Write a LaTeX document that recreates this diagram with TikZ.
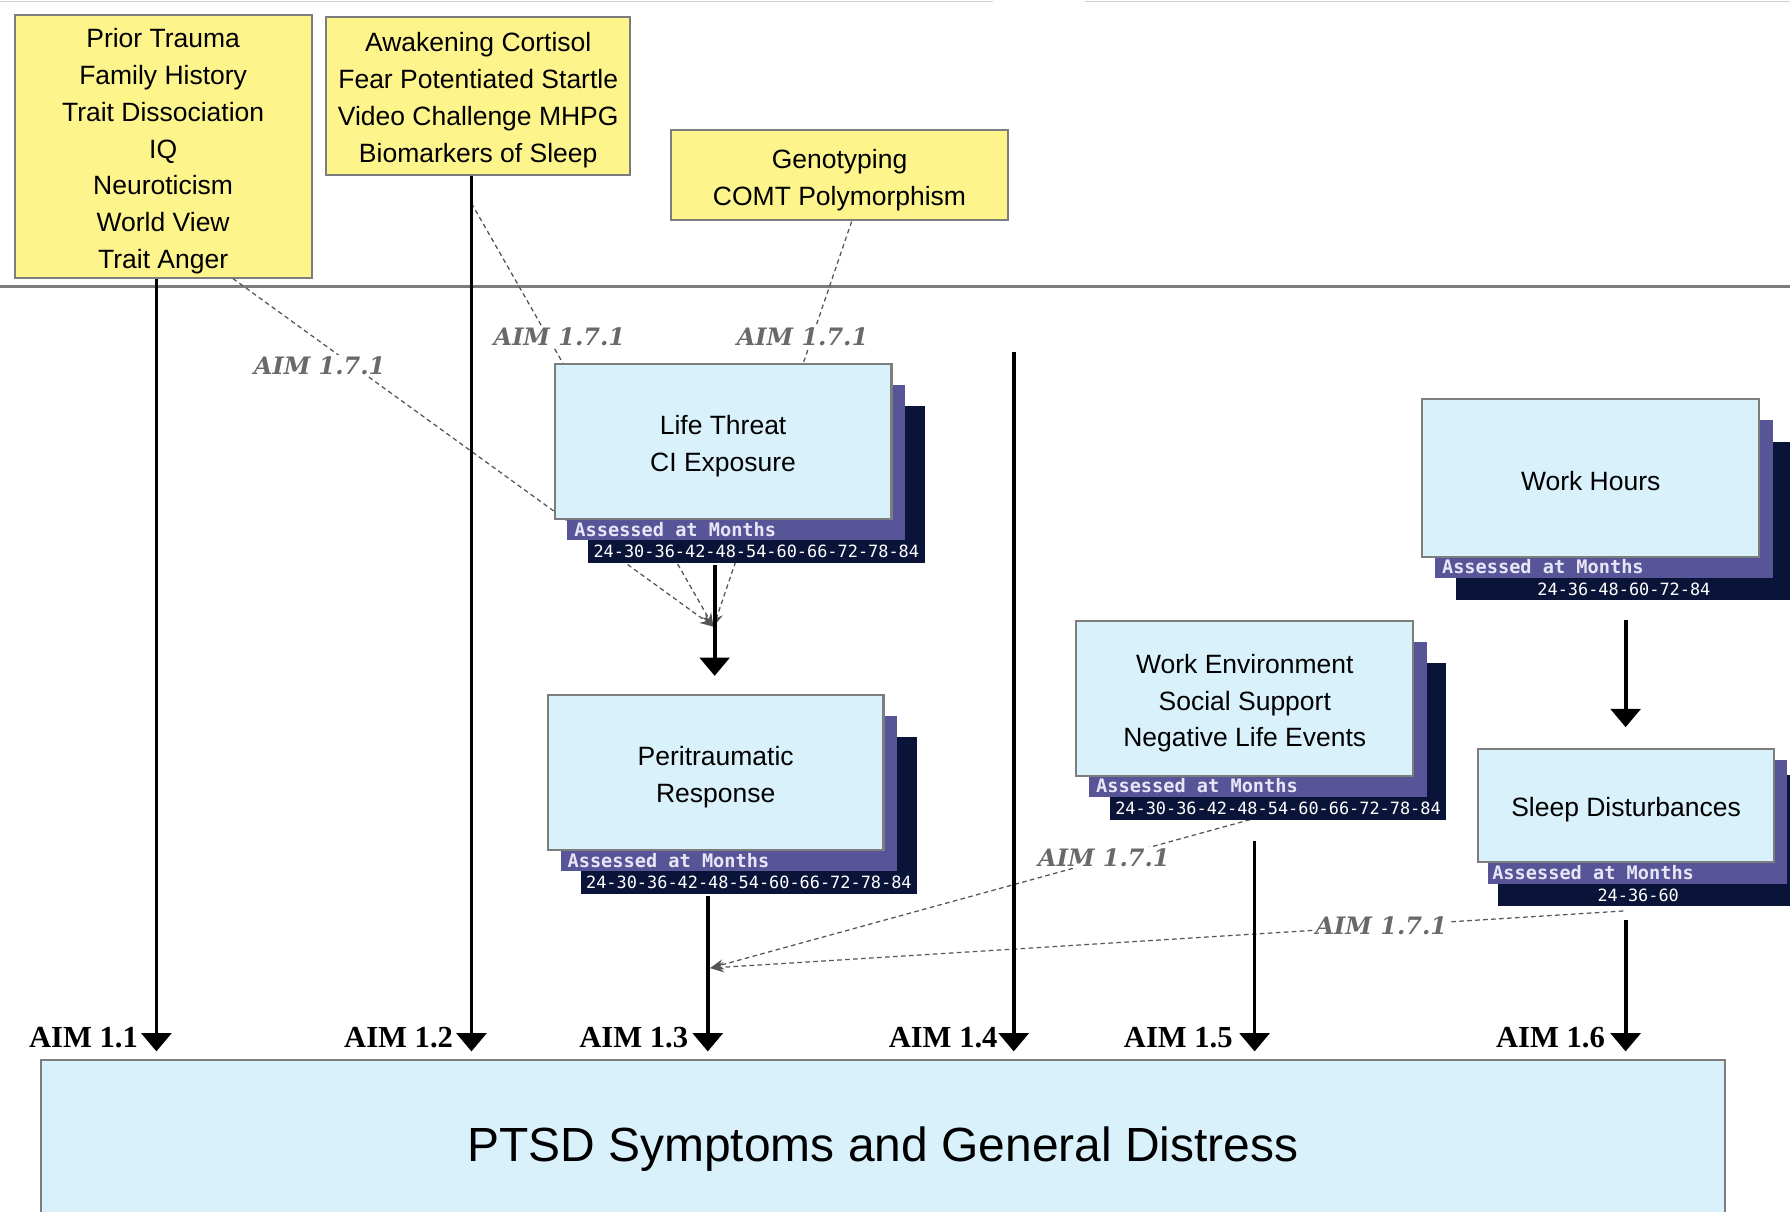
\documentclass[tikz,border=0pt]{standalone}
\usepackage{fontspec}
\setmainfont{Liberation Sans}
\newfontfamily\lserif{Liberation Serif}
\newfontfamily\dvserif{DejaVu Serif}
\newfontfamily\dvmono{DejaVu Sans Mono}
\usetikzlibrary{arrows.meta,calc}
\definecolor{cyel}{RGB}{253,244,140}
\definecolor{cblue}{RGB}{217,241,251}
\definecolor{cpurp}{RGB}{88,84,152}
\definecolor{cnavy}{RGB}{10,20,56}
\definecolor{cedge}{RGB}{125,125,125}
\definecolor{clav}{RGB}{232,230,246}
\definecolor{cdash}{RGB}{85,85,85}
\definecolor{csub}{RGB}{105,105,105}
\newcommand{\tup}{\rule{0pt}{25pt}}
\tikzset{
  yelbox/.style={draw=cedge, line width=1.8, fill=cyel, anchor=north west, inner sep=0, align=center,
    font=\fontsize{23.2}{32.3}\selectfont},
  frontbox/.style={draw=cedge, line width=1.8, fill=cblue, anchor=north west, inner sep=0, align=center,
    font=\fontsize{23.2}{32.3}\selectfont},
  asm/.style={font=\dvmono\bfseries\fontsize{16.3}{16}\selectfont, text=clav, anchor=west, inner sep=0},
  nums/.style={font=\dvmono\fontsize{14.8}{15}\selectfont, text=white, inner sep=0},
  blk/.style={line width=3.3, -{Triangle[width=26pt,length=16pt]}},
  dsh/.style={draw=cdash, line width=1.1, dash pattern=on 4pt off 3pt, -{Stealth[length=12pt,width=9pt]}},
  sublab/.style={font=\dvserif\bfseries\itshape\fontsize{21}{21}\selectfont, text=csub, fill=white, inner sep=1.5},
  aimlab/.style={font=\lserif\bfseries\fontsize{26.8}{27}\selectfont, anchor=base east, inner sep=0},
}
% #1 name, #2 L, #3 T, #4 R, #5 B, #6 text, #7 numbers
\newcommand{\mkstack}[7]{%
  \fill[cnavy] (#2+30,#3+38) rectangle (#4+30,#5+39);
  \fill[cpurp] (#2+12,#3+19) rectangle (#4+13,#5+19);
  \node[frontbox, minimum width={(#4-#2)*1pt}, minimum height={(#5-#3)*1pt}] (#1) at (#2,#3) {#6};
  \node[asm] (#1-a) at (#2+18,#5+9.5) {Assessed at Months};
  \node[nums] (#1-n) at ({(#2+#4)/2+30},#5+29) {#7};
}
\begin{document}
\begin{tikzpicture}[x=1pt,y=-1pt]
\useasboundingbox (0,0) rectangle (1568,1061);
\clip (0,0) rectangle (1568,1061);
\fill[white] (0,0) rectangle (1568,1061);

% faint top line and separator
\draw[gray!35, line width=1] (0,1) -- (870,1);
\draw[gray!35, line width=1] (950,1) -- (1568,1);
\draw[cedge, line width=2.2] (0,251) -- (1568,251);

% top yellow boxes
\node[yelbox, minimum width=260pt, minimum height=231pt] (b1) at (12,12)
  {\tup Prior Trauma\\Family History\\Trait Dissociation\\IQ\\Neuroticism\\World View\\Trait Anger};
\node[yelbox, minimum width=266pt, minimum height=138pt] (b2) at (285,14)
  {\tup Awakening Cortisol\\Fear Potentiated Startle\\Video Challenge MHPG\\Biomarkers of Sleep};
\node[yelbox, minimum width=295pt, minimum height=79pt] (geno) at (587,113)
  {\tup Genotyping\\COMT Polymorphism};

% coordinates
\coordinate (c1) at (204,244);
\coordinate (s2) at (413,178);
\coordinate (s3) at (746,194);
\coordinate (conv) at (625,549);
\coordinate (s4) at (1095,718);
\coordinate (s5) at (1422,798);
\coordinate (conv2) at (622,848);

% dashed AIM 1.7.1 connectors
\draw[dsh] (c1) -- (conv);
\draw[dsh] (s2) -- (conv);
\draw[dsh] (s3) -- (conv);
\draw[dsh] (s4) -- (conv2);
\draw[dsh] (s5) -- (conv2);

\node[sublab] (sl1) at (280,320) {AIM 1.7.1};
\node[sublab] (sl2) at (490,295) {AIM 1.7.1};
\node[sublab] (sl3) at (703,295) {AIM 1.7.1};
\node[sublab] (sl4) at (967,751) {AIM 1.7.1};
\node[sublab] (sl5) at (1210,811) {AIM 1.7.1};

% stacks
\mkstack{life}{485}{318}{780}{454}{\tup Life Threat\\CI Exposure}{24-30-36-42-48-54-60-66-72-78-84}
\mkstack{peri}{479}{608}{773}{744}{\tup Peritraumatic\\Response}{24-30-36-42-48-54-60-66-72-78-84}
\mkstack{wenv}{942}{543}{1237}{679}{\tup Work Environment\\Social Support\\Negative Life Events}{24-30-36-42-48-54-60-66-72-78-84}
\mkstack{whrs}{1245}{349}{1540}{487}{\rule{0pt}{21pt}Work Hours}{24-36-48-60-72-84}

% sleep stack (smaller offsets)
\fill[cnavy] (1312,679) rectangle (1593,794);
\fill[cpurp] (1303,666) rectangle (1565,774);
\node[frontbox, minimum width=259pt, minimum height=99pt] (sleep) at (1294,655) {\tup Sleep Disturbances};
\node[asm] (sleep-a) at (1307,764) {Assessed at Months};
\node[nums] (sleep-n) at (1435,784) {24-36-60};

% PTSD box
\node[draw=cedge, line width=1.8, fill=cblue, anchor=north west, inner sep=0,
  minimum width=1475pt, minimum height=148pt, font=\fontsize{42}{50}\selectfont] (ptsd) at (35,928)
  {\rule{0pt}{38.5pt}PTSD Symptoms and General Distress};

% solid arrows
\coordinate (t11) at (137,921);
\coordinate (t12) at (413,921);
\coordinate (t13) at (620,921);
\coordinate (t14) at (888,921);
\coordinate (t15) at (1099,921);
\coordinate (t16) at (1424,921);
\coordinate (s14) at (888,308);
\coordinate (s15) at (1099,737);
\coordinate (s16) at (1424,806);
\coordinate (lpt) at (626,592);
\coordinate (wst) at (1424,637);
\coordinate (wss) at (1424,543);

\draw[blk] (t11 |- b1.south) -- (t11);
\draw[blk] (t12 |- b2.south) -- (t12);
\draw[blk] ($(t13 |- peri.south)+(0,39)$) -- (t13);
\draw[blk] (s14) -- (t14);
\draw[blk] (s15) -- (t15);
\draw[blk] (s16) -- (t16);
\draw[blk] ($(lpt |- life.south)+(0,39)$) -- (lpt);
\draw[blk] (wss) -- (wst);

% AIM labels
\node[aimlab] (a11) at (121,918) {AIM 1.1};
\node[aimlab] (a12) at (397,918) {AIM 1.2};
\node[aimlab] (a13) at (603,918) {AIM 1.3};
\node[aimlab] (a14) at (874,918) {AIM 1.4};
\node[aimlab] (a15) at (1080,918) {AIM 1.5};
\node[aimlab] (a16) at (1406,918) {AIM 1.6};
\end{tikzpicture}
\end{document}
